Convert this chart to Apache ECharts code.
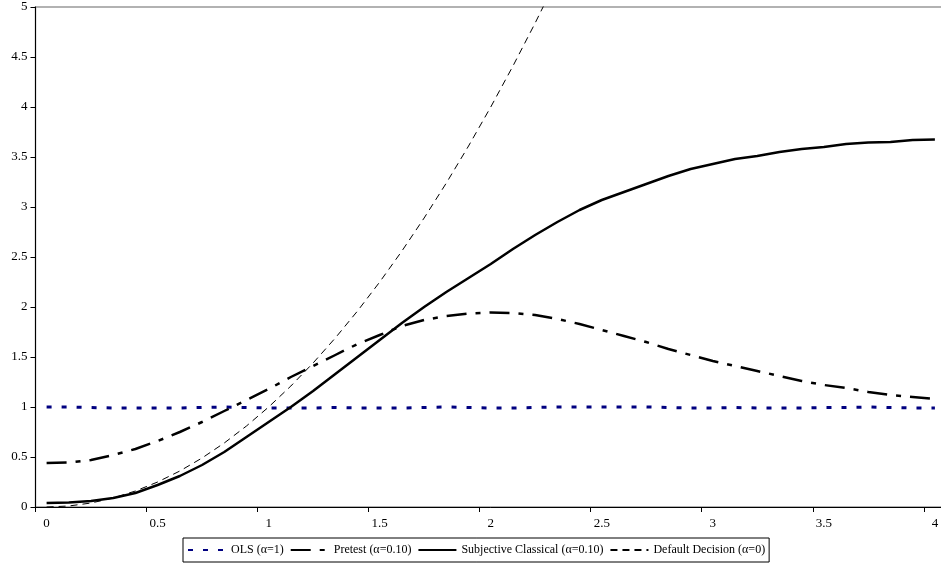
<!DOCTYPE html>
<html>
<head>
<meta charset="utf-8">
<script src="https://cdn.jsdelivr.net/npm/echarts@6/dist/echarts.min.js"></script>
<style>html,body{margin:0;padding:0;background:#fff;overflow:hidden;width:941px;height:574px;}#c{width:946px;height:574px;}</style>
</head>
<body>
<div id="c"></div>
<script>
var categories = ['0','0.1','0.2','0.3','0.4','0.5','0.6','0.7','0.8','0.9','1','1.1','1.2','1.3','1.4','1.5','1.6','1.7','1.8','1.9','2','2.1','2.2','2.3','2.4','2.5','2.6','2.7','2.8','2.9','3','3.1','3.2','3.3','3.4','3.5','3.6','3.7','3.8','3.9','4'];
var olsValues = [1.0,1.0,0.995,0.99,0.99,0.99,0.99,0.995,1.0,0.995,0.99,0.99,0.99,0.995,0.99,0.99,0.99,0.995,1.0,0.995,0.99,0.99,0.995,1.0,1.0,1.0,1.0,1.0,0.995,0.99,0.99,0.995,0.99,0.99,0.99,0.995,0.995,1.0,0.995,0.99,0.99];
var pretestValues = [0.44,0.445,0.47,0.52,0.58,0.66,0.75,0.85,0.96,1.07,1.18,1.30,1.41,1.52,1.63,1.72,1.81,1.87,1.91,1.935,1.945,1.94,1.92,1.88,1.83,1.77,1.71,1.65,1.58,1.52,1.46,1.41,1.36,1.31,1.26,1.22,1.19,1.15,1.12,1.10,1.08];
var subjectiveValues = [0.04,0.045,0.06,0.09,0.14,0.22,0.31,0.42,0.55,0.70,0.85,1.00,1.16,1.33,1.50,1.67,1.84,2.00,2.15,2.29,2.43,2.58,2.72,2.85,2.97,3.07,3.15,3.23,3.31,3.38,3.43,3.48,3.51,3.55,3.58,3.60,3.63,3.645,3.65,3.67,3.675];
var defaultValues = [0,0.01,0.04,0.09,0.16,0.25,0.36,0.49,0.64,0.81,1.0,1.21,1.44,1.69,1.96,2.25,2.56,2.89,3.24,3.61,4.0,4.41,4.84,5.29,null,null,null,null,null,null,null,null,null,null,null,null,null,null,null,null,null];
var yTicks = ['0','0.5','1','1.5','2','2.5','3','3.5','4','4.5','5'];
var seriesNames = ['OLS (α=1)','Pretest (α=0.10)','Subjective Classical (α=0.10)','Default Decision (α=0)'];

var chart = echarts.init(document.getElementById('c'), null, {renderer:'canvas'});
var font = '"Liberation Serif","Times New Roman",serif';
chart.setOption({
  animation:false,
  backgroundColor:'#fff',
  textStyle:{fontFamily:font},
  grid:{left:35.5, right:0, top:7, bottom:67, show:true, borderColor:'#999', borderWidth:1.5, backgroundColor:'transparent'},
  legend:{
    left:183, top:538, width:640,
    orient:'horizontal',
    padding:[6,4,6,4],
    itemGap:6,
    itemWidth:38, itemHeight:12,
    borderColor:'#000', borderWidth:1, borderRadius:0,
    itemStyle:{opacity:0},
    textStyle:{fontFamily:font, fontSize:12, color:'#000'},
    data:seriesNames
  },
  xAxis:{
    type:'category', data:categories, boundaryGap:true,
    axisLine:{lineStyle:{color:'#000', width:1}},
    axisTick:{show:true, interval:4, length:5, inside:false, lineStyle:{color:'#000'}},
    axisLabel:{interval:4, color:'#000', fontFamily:font, fontSize:13, margin:10},
    splitLine:{show:false}
  },
  yAxis:{
    type:'value', min:0, max:5, interval:0.5,
    axisLine:{show:true, lineStyle:{color:'#000', width:1}},
    axisTick:{show:true, length:5, lineStyle:{color:'#000'}},
    axisLabel:{color:'#000', fontFamily:font, fontSize:13, margin:8,
      formatter:function(v){ var i=Math.round(v*2); return yTicks[i]!==undefined?yTicks[i]:''; }},
    splitLine:{show:false}
  },
  series:[
    {name:seriesNames[0], type:'line', data:olsValues, symbol:'none', clip:true,
     lineStyle:{color:'#000080', width:3, type:[5,10]}, itemStyle:{color:'#000080'}},
    {name:seriesNames[1], type:'line', data:pretestValues, symbol:'none', clip:true,
     lineStyle:{color:'#000', width:2.5, type:[20,9,5,9]}, itemStyle:{color:'#000'}},
    {name:seriesNames[2], type:'line', data:subjectiveValues, symbol:'none', clip:true,
     lineStyle:{color:'#000', width:2.5, type:'solid'}, itemStyle:{color:'#000'}},
    {name:seriesNames[3], type:'line', data:defaultValues, symbol:'none', clip:true, connectNulls:false,
     lineStyle:{color:'#000', width:1, type:[7,5]}, itemStyle:{color:'#000'}}
  ]
});
</script>
</body>
</html>
